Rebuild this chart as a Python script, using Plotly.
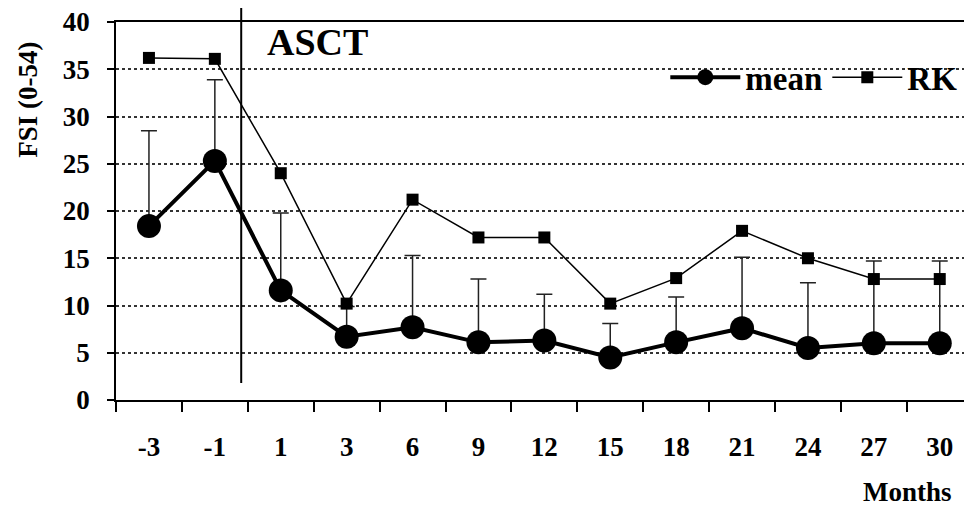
import plotly.graph_objects as go

months = ["-3", "-1", "1", "3", "6", "9", "12", "15", "18", "21", "24", "27", "30"]
mean_vals = [18.4, 25.3, 11.6, 6.7, 7.7, 6.1, 6.3, 4.5, 6.1, 7.6, 5.5, 6.0, 6.0]
mean_sd_upper = [10.1, 8.6, 8.2, 3.2, 7.6, 6.7, 4.9, 3.6, 4.8, 7.5, 6.9, 8.7, 8.7]
rk_vals = [36.2, 36.1, 24.0, 10.2, 21.2, 17.2, 17.2, 10.2, 12.9, 17.9, 15.0, 12.8, 12.8]
y_ticks = [0, 5, 10, 15, 20, 25, 30, 35, 40]

FONT = "Liberation Serif"

fig = go.Figure()
fig.add_trace(go.Scatter(
    x=months, y=mean_vals, name="mean", mode="lines+markers",
    line=dict(color="black", width=4),
    marker=dict(symbol="circle", size=24, color="black"),
    error_y=dict(type="data", symmetric=False, array=mean_sd_upper,
                 arrayminus=[0] * len(mean_vals), color="#222222",
                 thickness=1.5, width=8),
))
fig.add_trace(go.Scatter(
    x=months, y=rk_vals, name="RK", mode="lines+markers",
    line=dict(color="black", width=1.5),
    marker=dict(symbol="square", size=12, color="black"),
))

fig.add_shape(type="line", xref="x", yref="paper", x0=1.4, x1=1.4,
              y0=0.045, y1=1.037, line=dict(color="black", width=2))

fig.add_annotation(text="ASCT", xref="paper", yref="paper", x=0.176, y=0.947,
                   xanchor="left", yanchor="middle", showarrow=False,
                   font=dict(family=FONT, size=38, color="black", weight="bold"))
fig.add_annotation(text="FSI (0-54)", xref="paper", yref="paper", x=-0.104, y=0.794,
                   textangle=-90, xanchor="center", yanchor="middle", showarrow=False,
                   font=dict(family=FONT, size=27, color="black", weight="bold"))
fig.add_annotation(text="Months", xref="paper", yref="paper", x=0.933, y=-0.243,
                   xanchor="center", yanchor="middle", showarrow=False,
                   font=dict(family=FONT, size=27, color="black", weight="bold"))

fig.update_layout(
    width=964, height=509,
    margin=dict(l=116, r=0, t=22, b=109),
    paper_bgcolor="white", plot_bgcolor="white",
    showlegend=True,
    legend=dict(orientation="h", x=0.998, y=0.854, xanchor="right", yanchor="middle",
                bgcolor="rgba(0,0,0,0)", itemwidth=70,
                font=dict(family=FONT, size=33, color="black", weight="bold")),
    xaxis=dict(type="category", range=[-0.5, 12.368], tickson="boundaries",
               ticks="outside", ticklen=10, tickcolor="black", tickwidth=1.5,
               showline=True, linecolor="black", linewidth=1.5, mirror=True,
               showgrid=False, ticklabelstandoff=22,
               tickfont=dict(family=FONT, size=27, color="black", weight="bold")),
    yaxis=dict(range=[0, 40], tickvals=y_ticks, ticks="outside", ticklen=7,
               tickcolor="black", tickwidth=1.5,
               showline=True, linecolor="black", linewidth=1.5,
               showgrid=True, gridcolor="#333333", gridwidth=1.5, griddash="dot",
               zeroline=False, ticklabelstandoff=12,
               tickfont=dict(family=FONT, size=27, color="black", weight="bold")),
)

fig.write_html("out.html")
